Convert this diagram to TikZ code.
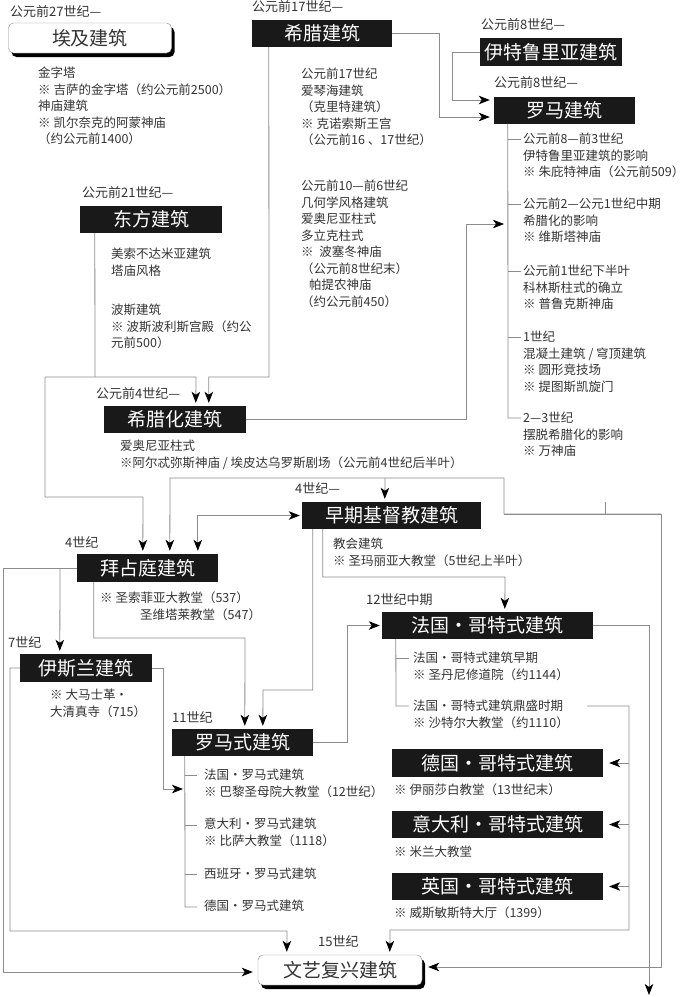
\documentclass[tikz,border=0pt]{standalone}
\usepackage{fontspec}
\setmainfont{Noto Sans CJK SC}
\usetikzlibrary{arrows.meta,calc,shadows}
\newcommand{\bodyfs}{\fontsize{12.5pt}{16.5pt}\selectfont}
\newcommand{\titlefs}{\fontsize{19pt}{20pt}\selectfont}
\newcommand{\labfs}{\fontsize{13pt}{15pt}\selectfont}
\definecolor{lncol}{gray}{0.55}
\definecolor{txcol}{gray}{0.2}
\definecolor{bxcol}{gray}{0.1}
\tikzset{
  tbox/.style={fill=bxcol, text=white, font=\titlefs, inner sep=0pt, minimum height=27pt},
  rbox/.style={draw=lncol, fill=white, rounded corners=5pt, font=\titlefs, text=txcol, inner sep=0pt, minimum height=30pt,
     drop shadow={shadow xshift=3pt, shadow yshift=-4pt, opacity=1, fill=black}},
  txt/.style={anchor=north west, inner sep=0pt, align=left, font=\bodyfs, text=txcol},
  lab/.style={anchor=west, inner sep=0pt, font=\labfs, text=txcol},
  wire/.style={draw=lncol, line width=0.8pt},
  arr/.style={wire, -{Stealth[length=11pt,width=8.5pt,inset=3pt,color=black]}},
  arrtwo/.style={wire, {Stealth[length=11pt,width=8.5pt,inset=3pt,color=black]}-{Stealth[length=11pt,width=8.5pt,inset=3pt,color=black]}}
}
\begin{document}
\begin{tikzpicture}[x=1pt,y=-1pt]
\fill[white] (0,0) rectangle (684,997);
\useasboundingbox (0,0) rectangle (684,997);

% title boxes
\node[rbox, minimum width=163pt] (egypt) at (90,38) {埃及建筑};
\node[tbox, minimum width=140pt] (greek) at (322,33.5) {希腊建筑};
\node[tbox, minimum width=142pt, minimum height=28pt] (etrus) at (551,52) {伊特鲁里亚建筑};
\node[tbox, minimum width=141pt] (rome) at (564.5,110) {罗马建筑};
\node[tbox, minimum width=142pt] (east) at (151,219.5) {东方建筑};
\node[tbox, minimum width=142pt] (hell) at (175,419.5) {希腊化建筑};
\node[tbox, minimum width=179pt] (early) at (391.5,515.5) {早期基督教建筑};
\node[tbox, minimum width=141pt, minimum height=28pt] (byz) at (147.5,568) {拜占庭建筑};
\node[tbox, minimum width=132pt, minimum height=28pt] (islam) at (86,668) {伊斯兰建筑};
\node[tbox, minimum width=141pt] (romq) at (242.5,742.5) {罗马式建筑};
\node[tbox, minimum width=211pt] (frg) at (487.5,625.5) {法国・哥特式建筑};
\node[tbox, minimum width=211pt, minimum height=28pt] (deg) at (497.5,763) {德国・哥特式建筑};
\node[tbox, minimum width=211pt] (itg) at (497.5,824.5) {意大利・哥特式建筑};
\node[tbox, minimum width=211pt] (eng) at (497.5,886.5) {英国・哥特式建筑};
\node[rbox, minimum width=164pt] (ren) at (340,970) {文艺复兴建筑};

% time labels
\node[lab] (l1) at (10,12) {公元前27世纪—};
\node[lab] (l2) at (252,7) {公元前17世纪—};
\node[lab] (l3) at (481,25) {公元前8世纪—};
\node[lab] (l4) at (494,83) {公元前8世纪—};
\node[lab] (l5) at (82,193) {公元前21世纪—};
\node[lab] (l6) at (96,393) {公元前4世纪—};
\node[lab] (l7) at (295,488) {4世纪—};
\node[lab] (l8) at (65,542) {4世纪};
\node[lab] (l9) at (8,642) {7世纪};
\node[lab] (l10) at (172,717) {11世纪};
\node[lab] (l11) at (366,600) {12世纪中期};
\node[lab] (l12) at (318,941) {15世纪};

% text blocks
\node[txt] (t1) at (38,67) {金字塔\\※ 吉萨的金字塔（约公元前2500）\\神庙建筑\\※ 凯尔奈克的阿蒙神庙\\（约公元前1400）};
\node[txt] (t2) at (301,68) {公元前17世纪\\爱琴海建筑\\（克里特建筑）\\※ 克诺索斯王宫\\（公元前16 、17世纪）};
\node[txt] (t3) at (301,180) {公元前10—前6世纪\\几何学风格建筑\\爱奥尼亚柱式\\多立克柱式\\※\ \ 波塞冬神庙\\（公元前8世纪末）\\\hspace*{8pt}帕提农神庙\\（约公元前450）};
\node[txt] (t4) at (111,248) {美索不达米亚建筑\\塔庙风格};
\node[txt] (t5) at (111,304) {波斯建筑\\※ 波斯波利斯宫殿（约公\\元前500）};
\node[txt] (t6) at (523,133) {公元前8—前3世纪\\伊特鲁里亚建筑的影响\\※ 朱庇特神庙（公元前509）};
\node[txt] (t7) at (523,198) {公元前2—公元1世纪中期\\希腊化的影响\\※ 维斯塔神庙};
\node[txt] (t8) at (523,265) {公元前1世纪下半叶\\科林斯柱式的确立\\※ 普鲁克斯神庙};
\node[txt] (t9) at (523,331) {1世纪\\混凝土建筑 / 穹顶建筑\\※ 圆形竞技场\\※ 提图斯凯旋门};
\node[txt] (t10) at (523,412) {2—3世纪\\摆脱希腊化的影响\\※ 万神庙};
\node[txt] (t11) at (120,440) {爱奥尼亚柱式\\※阿尔忒弥斯神庙 / 埃皮达乌罗斯剧场（公元前4世纪后半叶）};
\node[txt] (t12) at (333,538) {教会建筑\\※ 圣玛丽亚大教堂（5世纪上半叶）};
\node[txt] (t13) at (100,592) {※ 圣索菲亚大教堂（537）\\\hspace*{40pt}圣维塔莱教堂（547）};
\node[txt] (t14) at (50,689) {※ 大马士革・\\大清真寺（715）};
\node[txt] (t15) at (204,769) {法国・罗马式建筑\\※ 巴黎圣母院大教堂（12世纪）};
\node[txt] (t16) at (204,818) {意大利・罗马式建筑\\※ 比萨大教堂（1118）};
\node[txt] (t17) at (204,868) {西班牙・罗马式建筑};
\node[txt] (t18) at (204,900) {德国・罗马式建筑};
\node[txt] (t19) at (413,652) {法国・哥特式建筑早期\\※ 圣丹尼修道院（约1144）};
\node[txt] (t20) at (413,700) {法国・哥特式建筑鼎盛时期\\※ 沙特尔大教堂（约1110）};
\node[txt] (t21) at (394,784) {※ 伊丽莎白教堂（13世纪末）};
\node[txt] (t22) at (394,846) {※ 米兰大教堂};
\node[txt] (t23) at (394,907) {※ 威斯敏斯特大厅（1399）};

% connectors
\draw[arr] (greek.east) -- (439,33.5) |- ($(rome.west)+(-4,7)$);
\draw[arr] (etrus.west) -- (452,52) |- ($(rome.west)+(-4,-10)$);
\draw[arr] ($(greek.south west)+(17,0)$) -- (269,377) -| ($(hell.north west)+(105,-3)$);
\coordinate (ej) at (45,377);
\draw[wire] ($(east.south west)+(15,0)$) -- (95,377);
\draw[arr] (ej) -- (196,377) -- ($(hell.north west)+(92,-3)$);
\draw[arr] (ej) |- (143,497) -- ($(byz.north west)+(66,-3)$);
\coordinate (rtrunk) at (504,224);
\draw[arr] (hell.east) -- (466,419.5) |- (rtrunk);
\draw[wire] ($(rome.south west)+(14,0)$) -- (508,418) -- (521,418);
\foreach \yy in {139,204,271,337} \draw[wire] (508,\yy) -- (521,\yy);
\draw[wire] (605,502) -- (605,514);
\coordinate (nr) at (504,514);
\draw[arr] (661,514) -- (nr) -- (504,478) -- (170,478) -- ($(byz.north west)+(93,-3)$);
\draw[arr] (385,478) -- ($(early.north west)+(83,-3)$);
\draw[arr] (nr) -- (661,514) -- (661,967) -- ($(ren.east)+(6,-3)$);
\draw[arrtwo] ($(early.west)+(-2,0)$) -| ($(byz.north west)+(121,-3)$);
\draw[arr] ($(early.south west)+(21,0)$) |- (505,577) -- ($(frg.north west)+(123,-3)$);
\draw[arr] ($(early.south west)+(11,0)$) |- (263,690) -- ($(romq.north west)+(91,-3)$);
\draw[arr] ($(byz.south west)+(17,0)$) |- (245,638) -- ($(romq.north west)+(73,-3)$);
\draw[arr] (byz.west) -- (3,568) |- ($(ren.west)+(-5,2)$);
\draw[arr] (60,568) -- ($(islam.north west)+(40,-3)$);
\draw[arr] (islam.west) -- (10,668) |- (287,931) -- ($(ren.north west)+(29,-3)$);
\coordinate (rqtrunk) at (183,789);
\draw[arr] (islam.east) -- (163,668) |- (rqtrunk);
\draw[wire] ($(romq.south west)+(13,0)$) -- (185,907) -- (197,907);
\foreach \yy in {775,825,874} \draw[wire] (185,\yy) -- (197,\yy);
\draw[arr] (romq.east) -- (347,742.5) |- ($(frg.west)+(-2,0)$);
\draw[wire] ($(frg.south west)+(14,0)$) -- (396,706) -- (409,706);
\draw[wire] (396,658) -- (409,658);
\draw[arr] (587,706) -- (629,706) |- (390,930) -- ($(ren.north west)+(132,-3)$);
\draw[arr] (629,763) -- ($(deg.east)+(6,0)$);
\draw[arr] (629,824.5) -- ($(itg.east)+(6,0)$);
\draw[arr] (629,886.5) -- ($(eng.east)+(6,0)$);
\coordinate (endd) at (649,995);
\draw[arr] (frg.east) -| (endd);
\end{tikzpicture}
\end{document}
